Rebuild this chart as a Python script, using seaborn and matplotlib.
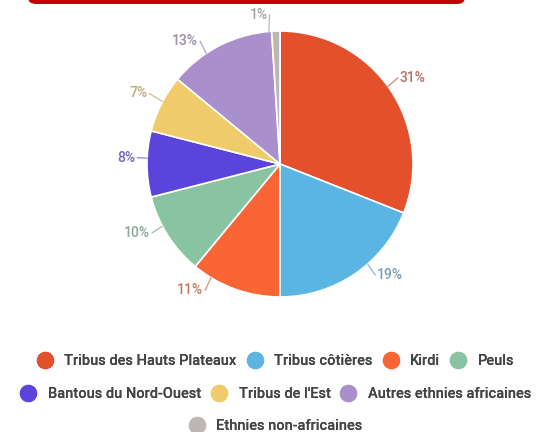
import matplotlib
matplotlib.use("Agg")
import matplotlib.pyplot as plt
from matplotlib.lines import Line2D
from matplotlib.patches import FancyBboxPatch
from matplotlib.colors import to_rgb
import numpy as np
import seaborn as sns

categories = ["Tribus des Hauts Plateaux", "Tribus côtières", "Kirdi", "Peuls",
              "Bantous du Nord-Ouest", "Tribus de l'Est", "Autres ethnies africaines",
              "Ethnies non-africaines"]
values = [31, 19, 11, 10, 8, 7, 13, 1]
labels = ["31%", "19%", "11%", "10%", "8%", "7%", "13%", "1%"]
colors = ["#E4502B", "#5BB5E3", "#FA6535", "#88C4A2", "#5B44DB", "#F0CB6A", "#A98FCB", "#BDB6B4"]

sns.set_theme(style="white")
plt.rcParams['font.family'] = ['Roboto', 'DejaVu Sans']
palette = sns.color_palette(colors)

W, H = 543, 432
fig = plt.figure(figsize=(W / 100, H / 100), dpi=100)
fig.patch.set_facecolor("white")

# red banner partially visible at top
banner = FancyBboxPatch((28 / W, (H - 4) / H), (465 - 28) / W, 20 / H,
                        boxstyle="round,pad=0,rounding_size=0.015",
                        transform=fig.transFigure, facecolor="#C40000",
                        edgecolor="none")
fig.patches.append(banner)

cx, cy, r = 280, 164, 133
ax = fig.add_axes([(cx - r) / W, (H - cy - r) / H, 2 * r / W, 2 * r / H])
wedges, _ = ax.pie(values, colors=palette, startangle=90, counterclock=False,
                   radius=1, wedgeprops=dict(edgecolor="white", linewidth=1.2))
ax.set_xlim(-1, 1)
ax.set_ylim(-1, 1)
ax.set_aspect("equal")
ax.axis("off")


def muted(c, k=0.5, grey=0.6):
    rgb = np.array(to_rgb(c))
    return tuple(rgb * k + grey * (1 - k))


# label placement (layout): angular nudges in degrees and radial distance
nudge = [1.5, 7, -11.5, -4.5, -2.5, -1, 6.7, 3]
rad = [1.11, 1.11, 1.11, 1.105, 1.09, 1.13, 1.11, 1.125]
total = float(sum(values))
cum = np.cumsum([0] + values[:-1])
for v, c0, lab, col, dn, rr in zip(values, cum, labels, colors, nudge, rad):
    a = 90 - 360 * (c0 + v / 2) / total + dn
    ang = np.deg2rad(a)
    x, y = np.cos(ang), np.sin(ang)
    ha = "left" if x > 0.05 else ("right" if x < -0.05 else "center")
    tx, ty = x * rr, y * rr
    lc = muted(col, 0.45, 0.72)
    if ha == "center":
        ax.plot([x * 1.0, x * 1.06], [y * 1.0, y * 1.06], color=lc, lw=0.9,
                clip_on=False)
    else:
        gap = 0.015 if ha == "left" else -0.015
        ax.plot([x * 1.0, tx - gap], [y * 1.0, ty], color=lc, lw=0.9,
                clip_on=False)
    ax.text(tx, ty, lab, ha=ha, va="center", fontsize=10, color=muted(col, 0.5, 0.55),
            fontweight="medium", clip_on=False)


def handle(c):
    return Line2D([], [], marker="o", linestyle="none", markersize=11.5,
                  markerfacecolor=c, markeredgecolor=c)


rows = [[0, 1, 2, 3], [4, 5, 6], [7]]
ys = [361, 394, 426]
for row, yy in zip(rows, ys):
    leg = fig.legend([handle(colors[i]) for i in row], [categories[i] for i in row],
                     loc="center", bbox_to_anchor=(0.507, 1 - yy / H), ncol=len(row),
                     frameon=False, handletextpad=0.75,
                     columnspacing=0.63, handlelength=1.2,
                     labelcolor="#444444", borderpad=0, borderaxespad=0,
                     prop={"weight": "medium", "size": 10.5})
    fig.add_artist(leg)

fig.savefig("out.png", dpi=100)
